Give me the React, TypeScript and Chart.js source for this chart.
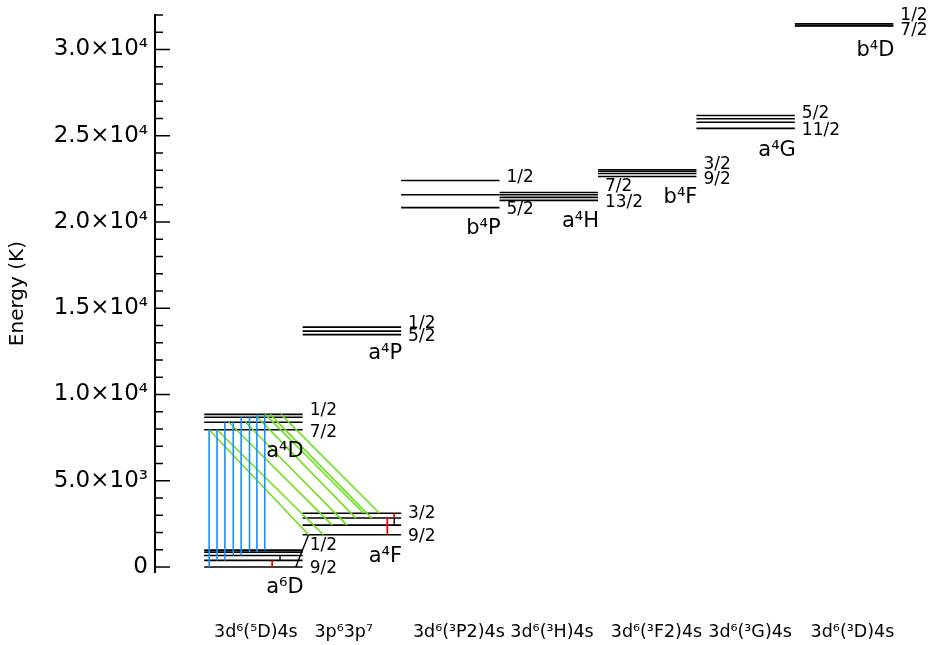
import React, { useEffect, useRef } from 'react';
import { Chart, registerables } from 'chart.js';

Chart.register(...registerables);

const FONT = "'DejaVu Sans', sans-serif";

// ---------- axes ----------
const categoryLabels = ['3d⁶(⁵D)4s', '3p⁶3p⁷', '3d⁶(³P2)4s', '3d⁶(³H)4s', '3d⁶(³F2)4s', '3d⁶(³G)4s', '3d⁶(³D)4s'];
const categoryTickPos = [0.1, 1.12, 2.12, 3.11, 4.13, 5.12, 6.16];

const yTickValues = [0, 5000, 10000, 15000, 20000, 25000, 30000];
const yTickLabels = ['0', '5.0×10³', '1.0×10⁴', '1.5×10⁴', '2.0×10⁴', '2.5×10⁴', '3.0×10⁴'];
const yMinorStep = 1000;
const yMin = -300;
const yMax = 32000;
const xMin = -0.5;
const xMax = 7.2;

// ---------- energy levels (per term) ----------
const a6D_E = [0, 385, 668, 863, 977];
const a4F_E = [1873, 2430, 2838, 3117];
const a4D_E = [7955, 8392, 8680, 8847];
const a4P_E = [13474, 13673, 13905];
const b4P_E = [20831, 21582, 22410];
const a4H_E = [21252, 21430, 21582, 21712];
const b4F_E = [22637, 22810, 22939, 23031];
const a4G_E = [25428, 25787, 25982, 26170];
const b4D_E = [31364, 31388, 31483];

const termNames = ['a⁶D', 'a⁴F', 'a⁴D', 'a⁴P', 'b⁴P', 'a⁴H', 'b⁴F', 'a⁴G', 'b⁴D'];
const termColumns = [0, 1, 0, 1, 2, 3, 4, 5, 6];
const termLevels = [a6D_E, a4F_E, a4D_E, a4P_E, b4P_E, a4H_E, b4F_E, a4G_E, b4D_E];
const termTopJ = ['1/2', '3/2', '1/2', '1/2', '1/2', '7/2', '3/2', '5/2', '1/2'];
const termBottomJ = ['9/2', '9/2', '7/2', '5/2', '5/2', '13/2', '9/2', '11/2', '7/2'];

// ---------- transitions ----------
const blueUpper = [7955, 7955, 8392, 8392, 8680, 8680, 8847, 8847];
const blueLower = [0, 385, 385, 668, 668, 863, 863, 977];
const blueX = [0.05, 0.13, 0.21, 0.295, 0.375, 0.46, 0.535, 0.615];

const greenUpper = [7955, 7955, 8392, 8392, 8680, 8847, 8847, 8847];
const greenLower = [1873, 1873, 2430, 2430, 2838, 3117, 2838, 3117];
const greenXUpper = [0.05, 0.13, 0.25, 0.42, 0.54, 0.62, 0.67, 0.78];
const greenXLower = [1.06, 1.21, 1.3, 1.45, 1.54, 1.62, 1.7, 1.78];

const redUpper = [385, 2838, 3117];
const redLower = [0, 1873, 2838];
const redX = [0.69, 1.86, 1.93];

const blackUpper = [668, 2838, 1873];
const blackLower = [385, 2430, 0];
const blackXUpper = [0.77, 1.93, 1.06];
const blackXLower = [0.77, 1.93, 0.93];

// ---------- label styling (pixel offsets) ----------
const topLabelDy = [-6.5, -1.5, -5.5, -5, -4.5, -7.5, -7, -3.5, -10];
const bottomLabelDy = [0, 0, 1.5, 0, 0, 0, 1, 0, 3];
const nameDy = [18, 19.5, 20, 17, 19, 19, 19, 20, 22.5];

const COLORS = { level: '#000000', blue: '#1e8ff5', green: '#6ee01a', red: '#ff0000', black: '#000000' };

function seg(x1: number, y1: number, x2: number, y2: number, color: string, width: number, order: number) {
  return {
    data: [{ x: x1, y: y1 }, { x: x2, y: y2 }],
    borderColor: color,
    backgroundColor: color,
    borderWidth: width,
    pointRadius: 0,
    pointHoverRadius: 0,
    fill: false,
    tension: 0,
    clip: false as any,
    order,
  };
}

function buildDatasets() {
  const ds: any[] = [];
  termLevels.forEach((levels, t) => {
    const c = termColumns[t];
    levels.forEach((e) => ds.push(seg(c, e, c + 1, e, COLORS.level, 1.6, 3)));
  });
  blueX.forEach((x, i) => ds.push(seg(x, blueUpper[i], x, blueLower[i], COLORS.blue, 1.6, 1)));
  greenXUpper.forEach((x, i) => ds.push(seg(x, greenUpper[i], greenXLower[i], greenLower[i], COLORS.green, 1.6, 1)));
  redX.forEach((x, i) => ds.push(seg(x, redUpper[i], x, redLower[i], COLORS.red, 1.8, 1)));
  blackXUpper.forEach((x, i) => ds.push(seg(x, blackUpper[i], blackXLower[i], blackLower[i], COLORS.black, 1.4, 1)));
  return ds;
}

const tickMarksPlugin = {
  id: 'inwardTicks',
  afterDraw(chart: any) {
    const ys = chart.scales.y;
    const ctx = chart.ctx;
    ctx.save();
    ctx.strokeStyle = '#000';
    ctx.lineWidth = 1.5;
    ys.ticks.forEach((t: any) => {
      const p = ys.getPixelForValue(t.value);
      const major = yTickValues.indexOf(t.value) >= 0;
      ctx.beginPath();
      ctx.moveTo(chart.chartArea.left, p);
      ctx.lineTo(chart.chartArea.left + (major ? 15 : 8), p);
      ctx.stroke();
    });
    ctx.restore();
  },
};

const termLabelPlugin = {
  id: 'termLabels',
  afterDraw(chart: any) {
    const xs = chart.scales.x;
    const ys = chart.scales.y;
    const ctx = chart.ctx;
    ctx.save();
    ctx.fillStyle = '#000';
    ctx.textBaseline = 'alphabetic';
    termLevels.forEach((levels, t) => {
      const xEnd = xs.getPixelForValue(termColumns[t] + 1);
      const top = Math.max(...levels);
      const bot = Math.min(...levels);
      const yTop = ys.getPixelForValue(top);
      const yBot = ys.getPixelForValue(bot);
      ctx.font = `17px ${FONT}`;
      ctx.textAlign = 'left';
      ctx.fillText(termTopJ[t], xEnd + 7, yTop + topLabelDy[t] + 6.2);
      ctx.fillText(termBottomJ[t], xEnd + 7, yBot + bottomLabelDy[t] + 6.2);
      ctx.font = `21px ${FONT}`;
      ctx.textAlign = 'right';
      ctx.fillText(termNames[t], xEnd + 1, yBot + nameDy[t] + 7.6);
    });
    ctx.restore();
  },
};

export default function App() {
  const ref = useRef<HTMLCanvasElement | null>(null);

  useEffect(() => {
    if (!ref.current) return;
    const chart = new Chart(ref.current, {
      type: 'line',
      data: { datasets: buildDatasets() },
      options: {
        animation: false,
        responsive: false,
        maintainAspectRatio: false,
        events: [],
        layout: { padding: { top: 15, left: 0, right: 23, bottom: 0 } },
        plugins: { legend: { display: false }, tooltip: { enabled: false }, title: { display: false } },
        scales: {
          x: {
            type: 'linear',
            min: xMin,
            max: xMax,
            grid: { display: false, drawTicks: false },
            border: { display: false },
            afterBuildTicks: (s: any) => {
              s.ticks = categoryTickPos.map((v) => ({ value: v }));
            },
            afterFit: (s: any) => {
              s.height = 645 - 572.2;
              s.paddingLeft = 0;
              s.paddingRight = 0;
            },
            ticks: {
              autoSkip: false,
              maxRotation: 0,
              minRotation: 0,
              align: 'start',
              padding: 49.5,
              color: '#000',
              font: { family: FONT, size: 17.5 },
              callback: (_v: any, i: number) => categoryLabels[i],
            },
          },
          y: {
            type: 'linear',
            min: yMin,
            max: yMax,
            grid: { display: false, drawTicks: false },
            border: { display: true, color: '#000', width: 2 },
            afterBuildTicks: (s: any) => {
              const arr: any[] = [];
              for (let v = 0; v <= yMax; v += yMinorStep) arr.push({ value: v });
              s.ticks = arr;
            },
            afterFit: (s: any) => {
              s.width = 155;
              s.paddingTop = 0;
              s.paddingBottom = 0;
            },
            ticks: {
              autoSkip: false,
              padding: 7,
              color: '#000',
              font: { family: FONT, size: 23 },
              callback: (v: any) => {
                const i = yTickValues.indexOf(Number(v));
                return i >= 0 ? yTickLabels[i] : '';
              },
            },
            title: {
              display: true,
              text: 'Energy (K)',
              color: '#000',
              font: { family: FONT, size: 20 },
              padding: { top: 6, bottom: 0 },
            },
          },
        },
      } as any,
      plugins: [tickMarksPlugin, termLabelPlugin],
    });
    return () => chart.destroy();
  }, []);

  return (
    <div style={{ position: 'fixed', left: 0, top: 0, width: 936, height: 645, background: '#fff' }}>
      <canvas ref={ref} width={936} height={645} style={{ display: 'block', width: 936, height: 645 }} />
    </div>
  );
}
